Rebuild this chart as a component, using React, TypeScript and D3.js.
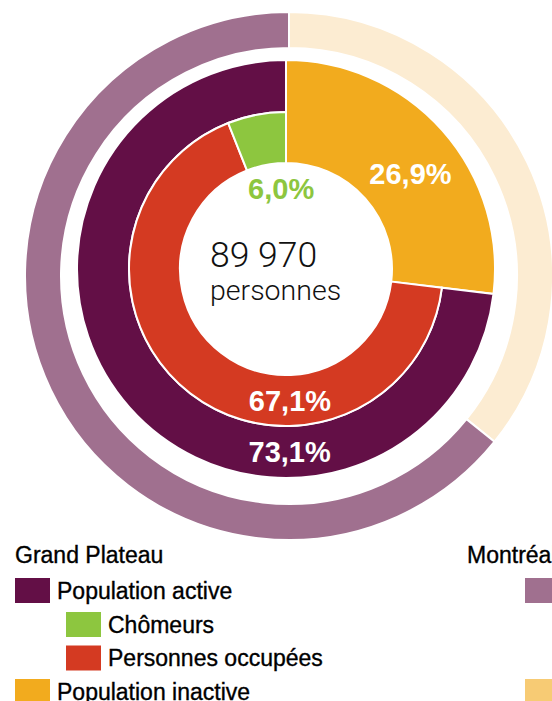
import React from "react";
import * as d3 from "d3";

// ---- Data ----
// Grand Plateau (middle ring): order drawn clockwise from 12 o'clock
const plateauGroups = ["Population inactive", "Population active"];
const plateauValues = [26.9, 73.1];
// Breakdown of the active population (inner ring), clockwise after the inactive share
const activeGroups = ["Personnes occupées", "Chômeurs"];
const activeValues = [67.1, 6.0];
// Montréal (outer ring)
const montrealGroups = ["Population inactive", "Population active"];
const montrealValues = [35.8, 64.2];

const totalLabel = "89 970";
const totalUnit = "personnes";

const legendTitles = ["Grand Plateau", "Montréal"];
const plateauLegend = ["Population active", "Chômeurs", "Personnes occupées", "Population inactive"];
const montrealLegend = ["Population active", "Population inactive"];

const fmt = (v: number) => v.toFixed(1).replace(".", ",") + "%";

const C = {
  active: "#630F46",
  inactive: "#F2AB1E",
  chomeurs: "#8DC63F",
  occupees: "#D43A22",
  mtlActive: "#A0708F",
  mtlInactive: "#FCECD2",
  mtlInactiveSwatch: "#F7CB74",
};

export default function App() {
  const W = 552;
  const H = 701;
  // inner chart centre and radii
  const cx = 286;
  const cy = 269;
  const rHole = 106;
  const rRing = 157;
  const rOuter = 209;
  // Montréal ring
  const mcx = 289;
  const mcy = 276;
  const mIn = 228;
  const mOut = 264;

  const TAU = Math.PI * 2;
  const pie = d3.pie<number>().sort(null).value((d) => d);

  const plateauArcs = pie(plateauValues);
  const mtlArcs = pie(montrealValues);
  const inactiveShare = plateauValues[0] / d3.sum(plateauValues);
  const activePie = d3
    .pie<number>()
    .sort(null)
    .value((d) => d)
    .startAngle(inactiveShare * TAU)
    .endAngle(TAU);
  const activeArcs = activePie(activeValues);

  const arcGen = d3.arc<any>();

  const mtlColors = [C.mtlInactive, C.mtlActive];
  const activeColors = [C.occupees, C.chomeurs];

  // label helper (angle in radians from 12 o'clock, clockwise)
  const polar = (a: number, r: number) => [cx + r * Math.sin(a), cy - r * Math.cos(a)];

  const inactiveArc = plateauArcs[0];
  const activeArc = plateauArcs[1];

  const lblInactive = polar((inactiveArc.startAngle + inactiveArc.endAngle) / 2 + 0.07, 157);
  const lblOccupees = polar(Math.PI - 0.03, 132);
  const lblActive = polar(Math.PI - 0.02, 183);
  const lblChom = polar(-0.06, 81);

  const pctFont = "'Liberation Sans', Arial, Helvetica, sans-serif";
  const legFont = "'Liberation Sans', Arial, Helvetica, sans-serif";

  const sw = 35;
  const sh = 25;
  const legRows = [
    { label: plateauLegend[0], color: C.active, x: 15, y: 578 },
    { label: plateauLegend[1], color: C.chomeurs, x: 66, y: 612 },
    { label: plateauLegend[2], color: C.occupees, x: 66, y: 645.5 },
    { label: plateauLegend[3], color: C.inactive, x: 15, y: 679 },
  ];
  const mtlRows = [
    { label: montrealLegend[0], color: C.mtlActive, x: 525, y: 578 },
    { label: montrealLegend[1], color: C.mtlInactiveSwatch, x: 525, y: 679 },
  ];

  return (
    <div style={{ position: "fixed", left: 0, top: 0, width: W, height: H, overflow: "hidden", background: "#fff" }}>
      <svg width={W} height={H} style={{ display: "block" }}>
        {/* Montréal ring */}
        <g transform={`translate(${mcx},${mcy})`}>
          {mtlArcs.map((a, i) => (
            <path
              key={montrealGroups[i]}
              d={arcGen({ ...a, innerRadius: mIn, outerRadius: mOut }) || ""}
              fill={mtlColors[i]}
              stroke="#fff"
              strokeWidth={2}
            />
          ))}
        </g>
        <g transform={`translate(${cx},${cy})`}>
          {/* inactive wedge spans whole depth */}
          <path
            d={arcGen({ ...inactiveArc, innerRadius: rHole, outerRadius: rOuter }) || ""}
            fill={C.inactive}
            stroke="#fff"
            strokeWidth={2}
          />
          {/* active outer band */}
          <path
            d={arcGen({ ...activeArc, innerRadius: rRing, outerRadius: rOuter }) || ""}
            fill={C.active}
            stroke="#fff"
            strokeWidth={2}
          />
          {/* active breakdown */}
          {activeArcs.map((a, i) => (
            <path
              key={activeGroups[i]}
              d={arcGen({ ...a, innerRadius: rHole, outerRadius: rRing }) || ""}
              fill={activeColors[i]}
              stroke="#fff"
              strokeWidth={2}
            />
          ))}
        </g>

        {/* percentage labels */}
        <g fontFamily={pctFont} fontSize={29} fontWeight={700} textAnchor="middle">
          <text x={lblInactive[0]} y={lblInactive[1]} dy="0.36em" fill="#fff">
            {fmt(plateauValues[0])}
          </text>
          <text x={lblOccupees[0]} y={lblOccupees[1]} dy="0.36em" fill="#fff">
            {fmt(activeValues[0])}
          </text>
          <text x={lblActive[0]} y={lblActive[1]} dy="0.36em" fill="#fff">
            {fmt(plateauValues[1])}
          </text>
          <text x={lblChom[0]} y={lblChom[1]} dy="0.36em" fill={C.chomeurs}>
            {fmt(activeValues[1])}
          </text>
        </g>

        {/* centre text */}
        <g fontFamily="Roboto, 'Liberation Sans', sans-serif" fontWeight={300} fill="#111">
          <text x={210} y={267} fontSize={35.5}>
            {totalLabel}
          </text>
          <text x={210} y={300} fontSize={28.5}>
            {totalUnit}
          </text>
        </g>

        {/* legend */}
        <g fontFamily={legFont} fontSize={23} fill="#000" stroke="#000" strokeWidth={0.35}>
          <text x={15} y={563}>{legendTitles[0]}</text>
          <text x={467} y={563}>{legendTitles[1]}</text>
          {legRows.map((r) => (
            <g key={r.label}>
              <rect x={r.x} y={r.y} width={sw} height={sh} fill={r.color} stroke="none" />
              <text x={r.x + sw + 7} y={r.y + sh / 2} dy="0.36em">
                {r.label}
              </text>
            </g>
          ))}
          {mtlRows.map((r) => (
            <g key={r.label + "m"}>
              <rect x={r.x} y={r.y} width={sw} height={sh} fill={r.color} stroke="none" />
              <text x={r.x + sw + 7} y={r.y + sh / 2} dy="0.36em">
                {r.label}
              </text>
            </g>
          ))}
        </g>
      </svg>
    </div>
  );
}
